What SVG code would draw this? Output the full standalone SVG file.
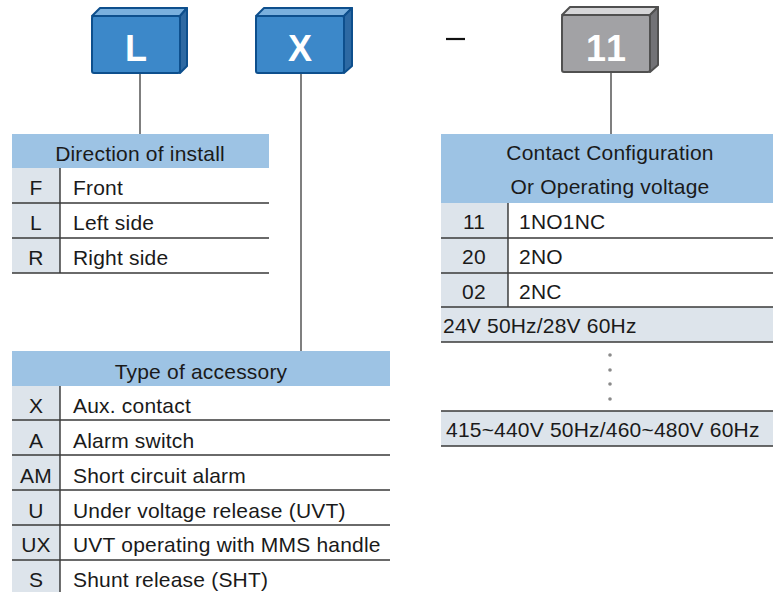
<svg xmlns="http://www.w3.org/2000/svg" width="773" height="592" viewBox="0 0 773 592">
<style>
text{font-family:"Liberation Sans",Arial,sans-serif;fill:#1a1a1a;font-size:21px;letter-spacing:0.2px}
.hd{fill:#9dc3e4}
.cd{fill:#dde4eb}
.rl{stroke:#3a3a3a;stroke-width:1.5;fill:none}
.vl{stroke:#222;stroke-width:1.3}
.c{text-anchor:middle}
.conn{stroke:#555;stroke-width:1.5;fill:none}
.bf{fill:#3c88c9;stroke:#0d4f8d;stroke-width:2;stroke-linejoin:round}
.bt{fill:#7ab0de;stroke:#0d4f8d;stroke-width:2;stroke-linejoin:round}
.bs{fill:#2d69a3;stroke:#0d4f8d;stroke-width:2;stroke-linejoin:round}
.gf{fill:#a2a2a5;stroke:#505050;stroke-width:2;stroke-linejoin:round}
.gt{fill:#d6d6d8;stroke:#505050;stroke-width:2;stroke-linejoin:round}
.gs{fill:#727276;stroke:#505050;stroke-width:2;stroke-linejoin:round}
.bl{font-family:"Liberation Sans",Arial,sans-serif;font-weight:bold;font-size:36px;fill:#fff;text-anchor:middle;letter-spacing:0}
</style>
<g id="connectors">
<line class="conn" x1="140" y1="73" x2="140" y2="135"/>
<line class="conn" x1="301" y1="73" x2="301" y2="351"/>
<line class="conn" x1="611" y1="72" x2="611" y2="135"/>
</g>
<g id="box-L">
<path class="bt" d="M92 16 L100 8 L187 8 L180 16 Z"/>
<path class="bs" d="M180 16 L187 8 L187 66 L180 73 Z"/>
<rect class="bf" x="92" y="16" width="88" height="57" rx="2"/>
<text class="bl" x="136" y="61">L</text>
</g>
<g id="box-X">
<path class="bt" d="M256 16 L264 8 L352 8 L344 16 Z"/>
<path class="bs" d="M344 16 L352 8 L352 66 L344 73 Z"/>
<rect class="bf" x="256" y="16" width="88" height="57" rx="2"/>
<text class="bl" x="300" y="61">X</text>
</g>
<g id="dash">
<line x1="446" y1="39" x2="465" y2="39" stroke="#111" stroke-width="2.2"/>
</g>
<g id="box-11">
<path class="gt" d="M562 15 L570 7 L658 7 L650 15 Z"/>
<path class="gs" d="M650 15 L658 7 L658 65 L650 72 Z"/>
<rect class="gf" x="562" y="15" width="88" height="57" rx="2"/>
<text class="bl" x="607" y="61" style="letter-spacing:2px">11</text>
</g>
<g id="table-direction">
<rect class="hd" x="12" y="134" width="257" height="34"/>
<rect class="cd" x="12" y="168" width="48" height="105"/>
<line class="vl" x1="60" y1="168" x2="60" y2="273"/>
<path class="rl" d="M12 203 H269 M12 238 H269 M12 273 H269"/>
<text class="c" x="140" y="161">Direction of install</text>
<text class="c" x="36" y="195">F</text><text x="73" y="195">Front</text>
<text class="c" x="36" y="230">L</text><text x="73" y="230">Left side</text>
<text class="c" x="36" y="265">R</text><text x="73" y="265">Right side</text>
</g>
<g id="table-accessory">
<rect class="hd" x="12" y="351" width="378" height="35"/>
<rect class="cd" x="12" y="386" width="48" height="206"/>
<line class="vl" x1="60" y1="386" x2="60" y2="592"/>
<path class="rl" d="M12 420 H390 M12 455 H390 M12 490 H390 M12 525 H390 M12 560 H390"/>
<text class="c" x="201" y="379">Type of accessory</text>
<text class="c" x="36" y="413">X</text><text x="73" y="413">Aux. contact</text>
<text class="c" x="36" y="448">A</text><text x="73" y="448">Alarm switch</text>
<text class="c" x="36" y="483">AM</text><text x="73" y="483">Short circuit alarm</text>
<text class="c" x="36" y="518">U</text><text x="73" y="518">Under voltage release (UVT)</text>
<text class="c" x="36" y="552">UX</text><text x="73" y="552">UVT operating with MMS handle</text>
<text class="c" x="36" y="587">S</text><text x="73" y="587">Shunt release (SHT)</text>
</g>
<g id="table-contact">
<rect class="hd" x="441" y="134" width="332" height="69"/>
<rect class="cd" x="441" y="203" width="67" height="104"/>
<rect class="cd" x="441" y="307" width="332" height="35"/>
<rect class="cd" x="441" y="411" width="332" height="35"/>
<line class="vl" x1="508" y1="203" x2="508" y2="307"/>
<path class="rl" d="M441 238 H773 M441 273 H773 M441 307 H773 M441 342 H773 M441 411 H773 M441 446 H773"/>
<text class="c" x="610" y="160">Contact Configuration</text>
<text class="c" x="610" y="194">Or Operating voltage</text>
<text class="c" x="474" y="229">11</text><text x="519" y="229">1NO1NC</text>
<text class="c" x="474" y="264">20</text><text x="519" y="264">2NO</text>
<text class="c" x="474" y="299">02</text><text x="519" y="299">2NC</text>
<text x="443" y="333">24V 50Hz/28V 60Hz</text>
<g fill="#8a8a8a"><circle cx="610" cy="355" r="1.8"/><circle cx="610" cy="370" r="1.8"/><circle cx="610" cy="384" r="1.8"/><circle cx="610" cy="399" r="1.8"/></g>
<text x="446" y="437">415~440V 50Hz/460~480V 60Hz</text>
</g>
</svg>
